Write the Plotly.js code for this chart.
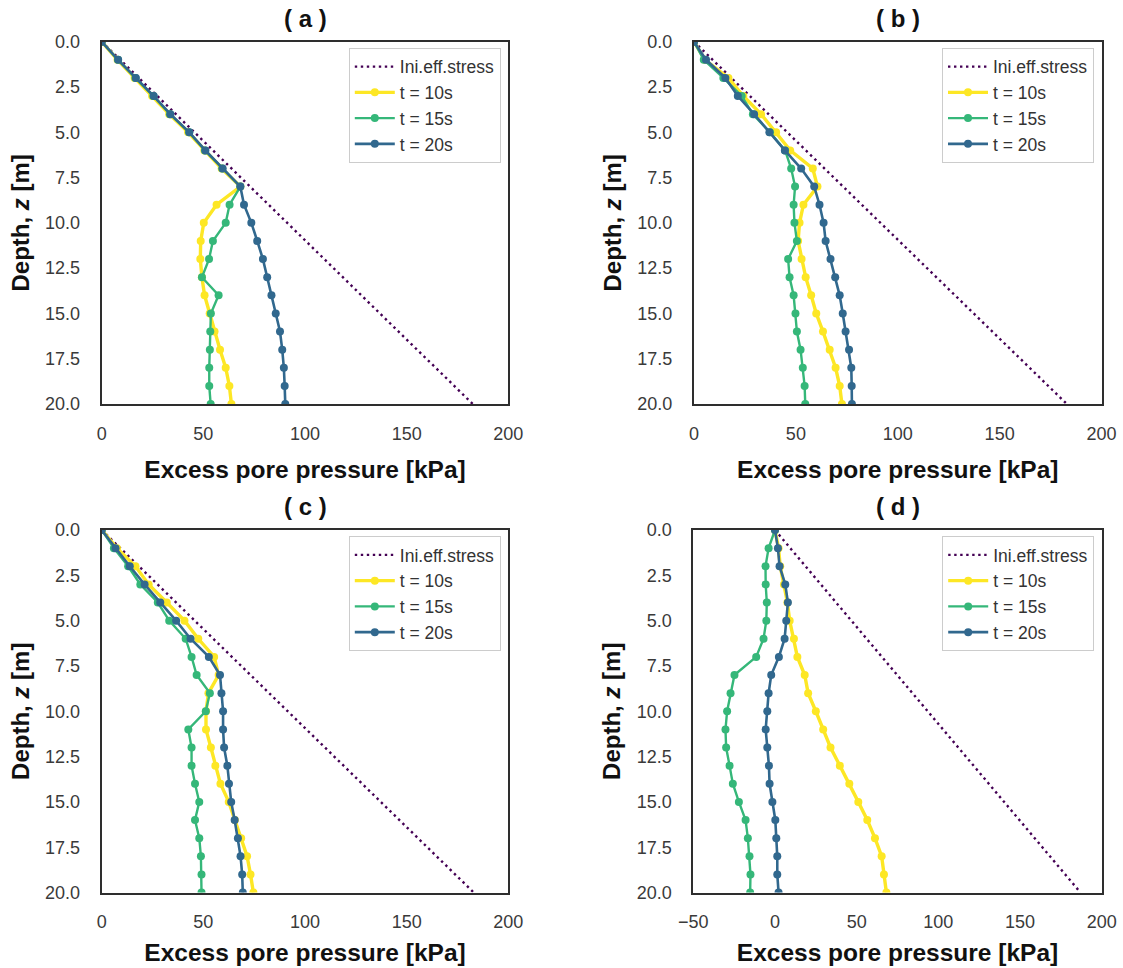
<!DOCTYPE html>
<html>
<head>
<meta charset="utf-8">
<script src="https://cdn.plot.ly/plotly-3.0.1.min.js"></script>
<style>html,body{margin:0;padding:0;background:#fff;}#chart{width:1123px;height:968px;}</style>
</head>
<body>
<div id="chart"></div>
<script>
// Depth [m]
const depth = [0,1,2,3,4,5,6,7,8,9,10,11,12,13,14,15,16,17,18,19,20];

// Initial effective stress [kPa]
const iniA = [0,9.1,18.25,27.4,36.5,45.6,54.8,63.9,73.0,82.1,91.3,100.4,109.5,118.6,127.8,136.9,146.0,155.1,164.3,173.4,182.5];
const iniB = [0,9.15,18.3,27.45,36.6,45.75,54.9,64.05,73.2,82.35,91.5,100.65,109.8,118.95,128.1,137.25,146.4,155.55,164.7,173.85,183.0];
const iniC = [0,9.15,18.3,27.45,36.6,45.75,54.9,64.05,73.2,82.35,91.5,100.65,109.8,118.95,128.1,137.25,146.4,155.55,164.7,173.85,183.0];
const iniD = [0,9.35,18.7,28.05,37.4,46.75,56.1,65.45,74.8,84.15,93.5,102.85,112.2,121.55,130.9,140.25,149.6,158.95,168.3,177.65,187.0];

// Panel (a) excess pore pressure [kPa]
const a10 = [0,7.8,16.2,24.8,33.2,42.5,50.5,59.0,68.2,56.5,50.2,48.7,48.5,49.3,50.6,53.1,55.5,58.2,61.0,62.8,63.8];
const a15 = [0,8.0,16.6,25.4,33.6,43.0,50.8,59.3,68.2,62.9,61.0,54.7,52.8,49.3,57.5,53.7,53.4,53.2,52.9,52.9,53.6];
const a20 = [0,8.1,16.8,25.6,33.8,43.1,51.0,59.5,68.2,70.0,73.6,76.5,79.3,81.4,83.5,85.6,87.7,88.8,89.6,90.0,90.3];

// Panel (b)
const b10 = [0,5.4,16.9,24.2,32.9,40.3,47.2,58.3,60.6,53.7,51.8,51.1,52.8,54.8,57.5,60.0,63.3,66.6,69.5,71.5,72.6];
const b15 = [0,4.8,14.4,23.4,28.9,37.3,44.7,47.7,49.6,48.9,49.3,50.5,46.2,46.9,48.9,49.8,50.5,52.3,53.4,54.3,54.6];
const b20 = [0,5.9,15.4,21.5,29.5,37.0,44.6,52.6,59.0,61.6,63.6,64.6,67.0,69.3,71.5,73.0,74.4,76.1,77.2,77.4,77.5];

// Panel (c)
const c10 = [0,7.5,16.6,23.1,32.0,40.7,47.5,55.3,57.5,52.5,51.3,51.3,53.7,55.9,58.4,62.5,65.5,68.6,71.5,73.2,74.6];
const c15 = [0,6.0,13.0,19.0,27.6,33.2,41.3,44.2,46.7,53.2,51.2,42.6,44.2,44.2,45.9,48.0,45.9,48.0,48.8,49.1,49.1];
const c20 = [0,6.8,13.8,21.1,28.8,36.6,43.7,52.7,58.2,58.9,59.7,59.7,60.2,61.8,62.6,63.7,65.4,67.0,68.3,69.1,69.4];

// Panel (d)
const d10 = [0,2.2,3.2,5.5,7.6,9.0,11.6,13.7,18.2,20.3,25.0,29.5,34.0,39.7,45.5,51.0,56.5,61.2,65.3,66.7,68.2];
const d15 = [0,-3.9,-5.8,-5.7,-5.0,-5.3,-7.0,-11.5,-24.8,-27.2,-29.3,-30.3,-29.9,-27.8,-25.8,-22.1,-18.0,-16.6,-15.6,-15.0,-15.2];
const d20 = [0,1.8,2.8,6.3,7.9,6.9,5.9,2.4,-2.3,-3.9,-4.7,-5.7,-4.7,-3.7,-3.3,-1.6,0.2,0.8,1.4,1.4,2.2];

const seriesNames = ['Ini.eff.stress','t = 10s','t = 15s','t = 20s'];
const panelLabels = ['( a )','( b )','( c )','( d )'];

const COL_INI = '#440154', COL10 = '#fde725', COL15 = '#35b779', COL20 = '#31688e';
const FONT = 'Liberation Sans, Arial, Helvetica, sans-serif';

const panels = [
  {ini: iniA, s10: a10, s15: a15, s20: a20},
  {ini: iniB, s10: b10, s15: b15, s20: b20},
  {ini: iniC, s10: c10, s15: c15, s20: c20},
  {ini: iniD, s10: d10, s15: d15, s20: d20}
];

const W = 1123, H = 968;
// plot area boxes in pixels [left, right, top, bottom]
const boxes = [
  [101.7, 508.3, 41.7, 404],
  [694.0, 1101.5, 41.7, 404],
  [101.7, 508.3, 530, 892.5],
  [693.3, 1101.7, 530, 892.5]
];
const xRanges = [[0,200],[0,200],[0,200],[-50,200]];
const xTitleStandoff = [18, 18, 13, 13];

const traces = [];
const layout = {
  width: W, height: H,
  margin: {l:0, r:0, t:0, b:0},
  paper_bgcolor: '#ffffff',
  plot_bgcolor: '#ffffff',
  font: {family: FONT, color: '#333333'},
  showlegend: true,
  annotations: []
};

panels.forEach((p, i) => {
  const n = i + 1;
  const xa = 'x' + (n === 1 ? '' : n);
  const ya = 'y' + (n === 1 ? '' : n);
  const lg = 'legend' + (n === 1 ? '' : n);
  const g = 'p' + n;
  traces.push({x: p.ini, y: depth, xaxis: xa, yaxis: ya, legend: lg, legendgroup: g + 'a',
    name: seriesNames[0], mode: 'lines', line: {color: COL_INI, width: 2.4, dash: '2.4px,3.6px'}});
  traces.push({x: p.s10, y: depth, xaxis: xa, yaxis: ya, legend: lg, legendgroup: g + 'b',
    name: seriesNames[1], mode: 'lines+markers', line: {color: COL10, width: 3.4},
    marker: {color: COL10, size: 8}});
  traces.push({x: p.s15, y: depth, xaxis: xa, yaxis: ya, legend: lg, legendgroup: g + 'c',
    name: seriesNames[2], mode: 'lines+markers', line: {color: COL15, width: 2.4},
    marker: {color: COL15, size: 8}});
  traces.push({x: p.s20, y: depth, xaxis: xa, yaxis: ya, legend: lg, legendgroup: g + 'd',
    name: seriesNames[3], mode: 'lines+markers', line: {color: COL20, width: 2.6},
    marker: {color: COL20, size: 8}});

  const b = boxes[i];
  const xKey = 'xaxis' + (n === 1 ? '' : n);
  const yKey = 'yaxis' + (n === 1 ? '' : n);
  layout[xKey] = {
    domain: [b[0]/W, b[1]/W], anchor: ya, range: xRanges[i], autorange: false,
    dtick: 50, tick0: 0, showgrid: false, zeroline: false,
    showline: true, mirror: true, linecolor: '#2e2e2e', linewidth: 2,
    ticks: '', ticklabelstandoff: 12,
    tickfont: {family: FONT, size: 18, color: '#3a3a3a'},
    title: {text: 'Excess pore pressure [kPa]', standoff: xTitleStandoff[i],
      font: {family: FONT, size: 24.5, color: '#111111', weight: 'bold'}},
    automargin: false
  };
  layout[yKey] = {
    domain: [1 - b[3]/H, 1 - b[2]/H], anchor: xa, range: [20, 0], autorange: false,
    dtick: 2.5, tick0: 0, tickformat: '.1f', showgrid: false, zeroline: false,
    showline: true, mirror: true, linecolor: '#2e2e2e', linewidth: 2,
    ticks: '', ticklabelstandoff: 16,
    tickfont: {family: FONT, size: 18, color: '#3a3a3a'},
    title: {text: 'Depth, <i>z</i> [m]', standoff: 9,
      font: {family: FONT, size: 24, color: '#111111', weight: 'bold'}},
    automargin: false
  };
  layout[lg] = {
    x: (b[1] - 7.5)/W, xanchor: 'right', y: 1 - (b[2] + 6)/H, yanchor: 'top',
    xref: 'paper', yref: 'paper',
    bgcolor: 'rgba(255,255,255,0.85)', bordercolor: '#cccccc', borderwidth: 1,
    font: {family: FONT, size: 17.5, color: '#333333'},
    tracegroupgap: 0, traceorder: 'grouped', itemwidth: 40
  };
  layout.annotations.push({
    text: '<b>' + panelLabels[i] + '</b>', xref: 'paper', yref: 'paper',
    x: (b[0] + b[1]) / 2 / W, y: 1 - (b[2] - 23) / H, xanchor: 'center', yanchor: 'middle',
    showarrow: false, font: {family: FONT, size: 24, color: '#111111'}
  });
});

Plotly.newPlot('chart', traces, layout, {displayModeBar: false, staticPlot: true});
</script>
</body>
</html>
